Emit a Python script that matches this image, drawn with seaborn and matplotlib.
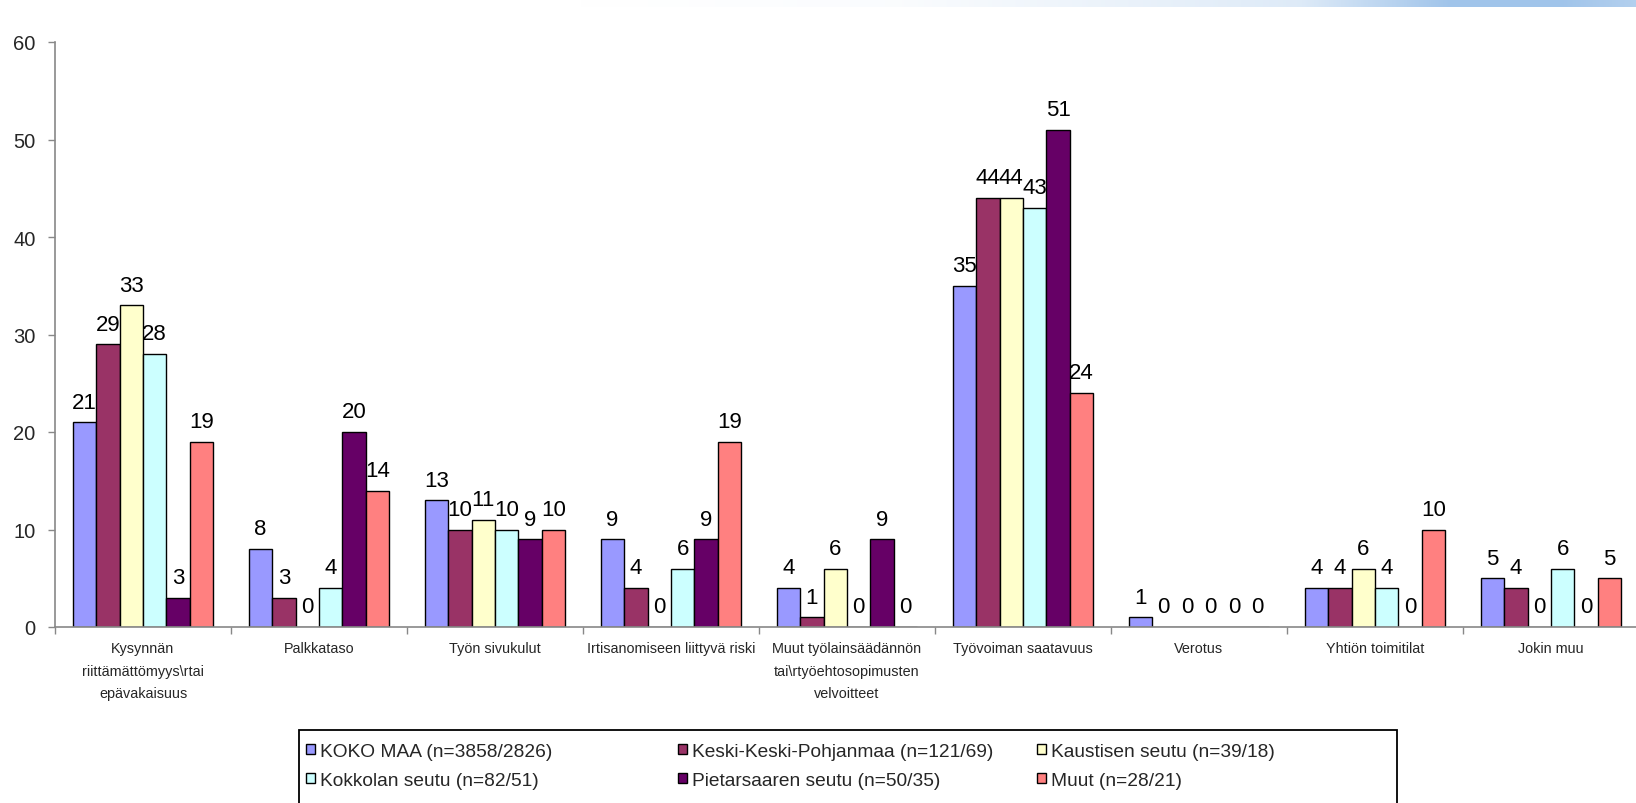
import numpy as np
import pandas as pd
import matplotlib
matplotlib.use("Agg")
import matplotlib.pyplot as plt
import seaborn as sns
from matplotlib.patches import Rectangle

# ---------------- data ----------------
categories = [
    "Kysynnän\nriittämättömyys\\rtai\nepävakaisuus",
    "Palkkataso",
    "Työn sivukulut",
    "Irtisanomiseen liittyvä riski",
    "Muut työlainsäädännön\ntai\\rtyöehtosopimusten\nvelvoitteet",
    "Työvoiman saatavuus",
    "Verotus",
    "Yhtiön toimitilat",
    "Jokin muu",
]
series_names = [
    "KOKO MAA (n=3858/2826)",
    "Keski-Keski-Pohjanmaa (n=121/69)",
    "Kaustisen seutu (n=39/18)",
    "Kokkolan seutu (n=82/51)",
    "Pietarsaaren seutu (n=50/35)",
    "Muut (n=28/21)",
]
koko_maa = [21, 8, 13, 9, 4, 35, 1, 4, 5]
keski_pohjanmaa = [29, 3, 10, 4, 1, 44, 0, 4, 4]
kaustinen = [33, 0, 11, 0, 6, 44, 0, 6, 0]
kokkola = [28, 4, 10, 6, 0, 43, 0, 4, 6]
pietarsaari = [3, 20, 9, 9, 9, 51, 0, 0, 0]
muut = [19, 14, 10, 19, 0, 24, 0, 10, 5]
y_ticks = [0, 10, 20, 30, 40, 50, 60]

colors = ["#9999FF", "#993366", "#FFFFCC", "#CCFFFF", "#660066", "#FF8080"]

series_values = [koko_maa, keski_pohjanmaa, kaustinen, kokkola, pietarsaari, muut]
rows = []
for name, vals in zip(series_names, series_values):
    for cat, v in zip(categories, vals):
        rows.append({"Kategoria": cat, "Sarja": name, "Arvo": v})
df = pd.DataFrame(rows)

# ---------------- style ----------------
sns.set_theme(style="white")
plt.rcParams["font.family"] = ["Liberation Sans", "DejaVu Sans"]

W, H = 1636, 804
fig = plt.figure(figsize=(W / 100, H / 100), dpi=100)
fig.patch.set_facecolor("white")

# decorative gradient strip at top
gax = fig.add_axes([0, 1 - 8 / H, 1, 8 / H])
xs = np.arange(W)
t = np.interp(xs, [0, 580, 900, 1300, 1450, 1560, 1636], [0, 0, 0.05, 0.35, 1, 1, 0.8])
c0 = np.array([1.0, 1.0, 1.0])
c1 = np.array([160, 196, 234]) / 255
img = (c0[None, :] * (1 - t[:, None]) + c1[None, :] * t[:, None])[None, :, :]
gax.imshow(img, aspect="auto", extent=[0, 1, 0, 1])
gax.axis("off")

ax = fig.add_axes([55 / W, 1 - 628 / H, 1584 / W, 585 / H])
sns.barplot(
    data=df, x="Kategoria", y="Arvo", hue="Sarja",
    order=categories, hue_order=series_names, palette=colors,
    saturation=1, edgecolor="black", linewidth=1.0, width=0.8, gap=0,
    errorbar=None, legend=False, ax=ax,
)

for cont in ax.containers:
    ax.bar_label(cont, fmt="%d", padding=7, fontsize=16, color="black")

ax.set_ylim(0, 60)
ax.set_xlim(-0.5, 8.5)
ax.set_yticks(y_ticks)
ax.set_yticklabels([str(v) for v in y_ticks], fontsize=14.5)
ax.set_xticks(range(len(categories)))
ax.set_xticklabels(categories, fontsize=10.4, linespacing=1.8, va="top")
ax.set_xticks(np.arange(-0.5, 9.0, 1.0), minor=True)
ax.tick_params(axis="x", which="major", length=0, pad=10)
ax.tick_params(axis="x", which="minor", length=5, width=1, color="#888888", direction="out", bottom=True)
ax.tick_params(axis="y", length=5, width=1, color="#888888", direction="out", left=True, pad=9)
ax.set_xlabel("")
ax.set_ylabel("")
ax.grid(False)
for s in ["top", "right"]:
    ax.spines[s].set_visible(False)
for s in ["left", "bottom"]:
    ax.spines[s].set_color("#888888")
    ax.spines[s].set_linewidth(1.2)
ax.set_facecolor("white")

# ---------------- legend ----------------
handles = [cont.patches[0] for cont in ax.containers]
frame = Rectangle((299 / W, -0.05), (1397 - 299) / W, 0.05 + 1 - 731 / H,
                  transform=fig.transFigure, fill=False, edgecolor="black", linewidth=1.3)
fig.patches.append(frame)

col_x = [306, 678, 1037]
col_items = [[0, 3], [1, 4], [2, 5]]
for cx, items in zip(col_x, col_items):
    fig.legend([handles[i] for i in items], [series_names[i] for i in items],
               loc="center left", bbox_to_anchor=(cx / W, 1 - 767 / H),
               frameon=False, borderpad=0, borderaxespad=0,
               fontsize=13.8, handlelength=0.46, handleheight=0.46,
               handletextpad=0.28, labelspacing=0.62)

fig.savefig("out.png", dpi=100, facecolor="white")
